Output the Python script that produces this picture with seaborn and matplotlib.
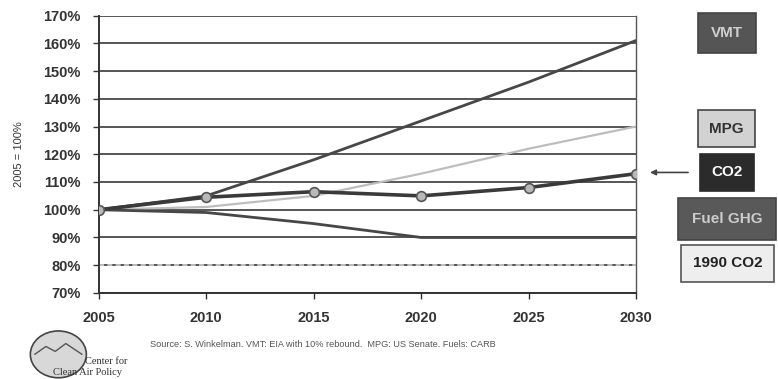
import numpy as np
import pandas as pd
import seaborn as sns
import matplotlib.pyplot as plt
from matplotlib.patches import Ellipse

years = [2005, 2010, 2015, 2020, 2025, 2030]
vmt = [100, 105, 118, 132, 146, 161]
mpg = [100, 101, 105, 113, 122, 130]
co2 = [100, 104.5, 106.5, 105, 108, 113]
fuel_ghg = [100, 99, 95, 90, 90, 90]
co2_1990 = [80, 80, 80, 80, 80, 80]

yticks = list(range(70, 171, 10))
source = "Source: S. Winkelman. VMT: EIA with 10% rebound.  MPG: US Senate. Fuels: CARB"

sns.set_style("white")
plt.rcParams['font.family'] = ['Liberation Sans', 'DejaVu Sans']

df = pd.DataFrame({"year": years, "VMT": vmt, "MPG": mpg, "CO2": co2,
                   "Fuel GHG": fuel_ghg, "1990 CO2": co2_1990})

fig = plt.figure(figsize=(7.78, 3.79), dpi=100)
ax = fig.add_axes([0.127, 0.227, 0.6905, 0.732])

# horizontal grid
for v in yticks:
    ax.axhline(v, color="#555555", lw=1.4, zorder=1)

sns.lineplot(data=df, x="year", y="1990 CO2", ax=ax, color="#d0d0d0", lw=1.2,
             linestyle=(0, (3, 2)), zorder=2)
sns.lineplot(data=df, x="year", y="MPG", ax=ax, color="#bdbdbd", lw=1.6, zorder=3)
sns.lineplot(data=df, x="year", y="Fuel GHG", ax=ax, color="#474747", lw=2.0, zorder=3)
sns.lineplot(data=df, x="year", y="VMT", ax=ax, color="#474747", lw=2.0, zorder=3)
sns.lineplot(data=df, x="year", y="CO2", ax=ax, color="#3a3a3a", lw=2.6, zorder=4,
             marker="o", markersize=7, markerfacecolor="#b8b8b8",
             markeredgecolor="#555555", markeredgewidth=1.2)

ax.set_xlim(2005, 2030)
ax.set_ylim(70, 170)
ax.set_xticks(years)
ax.set_yticks(yticks)
ax.set_yticklabels([f"{v}%" for v in yticks])
ax.tick_params(axis="both", labelsize=10.5, length=4, width=1, color="#333333",
               bottom=True, left=True)
ax.tick_params(axis="y", pad=9)
ax.tick_params(axis="x", pad=9)
for lab in ax.get_xticklabels() + ax.get_yticklabels():
    lab.set_fontweight("bold")
    lab.set_color("#333333")
ax.set_xlabel("")
ax.set_ylabel("2005 = 100%", fontsize=8, color="#333333", labelpad=14)

for side in ["left", "bottom"]:
    ax.spines[side].set_color("#333333")
    ax.spines[side].set_linewidth(1.4)
ax.spines["right"].set_color("#555555")
ax.spines["right"].set_linewidth(1.0)
ax.spines["top"].set_visible(False)

# right-hand labels
boxes = [
    ("VMT", 0.934, 0.912, "#555555", "#cfcfcf", "#444444", 0.85),
    ("MPG", 0.934, 0.660, "#d2d2d2", "#333333", "#444444", 0.75),
    ("CO2", 0.934, 0.545, "#2b2b2b", "#ffffff", "#2b2b2b", 0.75),
    ("Fuel GHG", 0.935, 0.422, "#595959", "#cccccc", "#444444", 0.9),
    ("1990 CO2", 0.935, 0.305, "#eeeeee", "#222222", "#555555", 0.75),
]
for text, x, y, fc, tc, ec, pad in boxes:
    fig.text(x, y, text, ha="center", va="center", fontsize=11,
             fontweight="bold", color=tc,
             bbox=dict(boxstyle=f"square,pad={pad}", fc=fc, ec=ec, lw=1.2))

ax.annotate("", xy=(0.832, 0.545), xytext=(0.888, 0.545),
            xycoords="figure fraction", textcoords="figure fraction",
            arrowprops=dict(arrowstyle="-|>", color="#444444", lw=1.2,
                            mutation_scale=8))

fig.text(0.193, 0.092, source, fontsize=6.6, color="#555555", ha="left", va="center")

# logo
ax_logo = fig.add_axes([0.035, 0.0, 0.08, 0.13])
ax_logo.add_patch(Ellipse((0.5, 0.5), 0.9, 0.95, fc="#d8d8d8", ec="#444444", lw=1.2))
ax_logo.plot([0.12, 0.3, 0.45, 0.62, 0.88], [0.5, 0.66, 0.56, 0.72, 0.5],
             color="#555555", lw=1)
ax_logo.set_xlim(0, 1)
ax_logo.set_ylim(0, 1)
ax_logo.axis("off")
fig.text(0.109, 0.045, "Center for", fontsize=7.5, family="Liberation Serif",
         color="#333333", ha="left", va="center")
fig.text(0.068, 0.018, "Clean Air Policy", fontsize=7.5, family="Liberation Serif",
         color="#333333", ha="left", va="center")

fig.savefig("out.png", dpi=100)
